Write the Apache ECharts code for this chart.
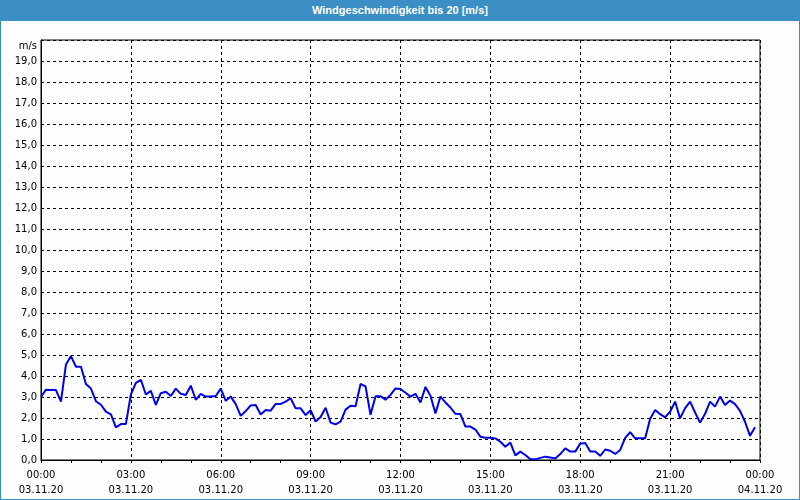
<!DOCTYPE html>
<html>
<head>
<meta charset="utf-8">
<script src="https://cdn.jsdelivr.net/npm/echarts@6/dist/echarts.min.js"></script>
<style>
html,body{margin:0;padding:0;background:#fff;}
#frame{position:absolute;left:0;top:0;width:798px;height:499px;border:1px solid #3b8fc4;border-top:none;background:#fcfdfd;}
#titlebar{position:absolute;left:0;top:0;width:800px;height:21px;background:#3b8fc4;color:#fff;font:bold 11px "Liberation Sans",sans-serif;text-align:center;line-height:21px;}
#chart{position:absolute;left:0;top:0;width:800px;height:500px;}
</style>
</head>
<body>
<div id="frame"></div>
<div id="titlebar">Windgeschwindigkeit bis 20 [m/s]</div>
<div id="chart"></div>
<script>
// Wind speed [m/s], 10-minute samples from 00:00 to 23:50 (03.11.20)
const sampleStepMinutes = 10;
const windSpeed = [
 3.0,3.35,3.33,3.33,2.78,4.55,4.95,4.44,4.44,3.62,3.4,2.8,2.63,2.3,2.17,1.55,1.71,1.71,
 3.12,3.67,3.82,3.12,3.29,2.62,3.18,3.25,3.05,3.4,3.15,3.1,3.54,2.87,3.15,3.02,3.02,3.05,
 3.4,2.82,3.02,2.66,2.1,2.33,2.6,2.62,2.17,2.38,2.35,2.67,2.67,2.78,2.94,2.46,2.46,2.14,
 2.37,1.83,2.05,2.49,1.78,1.7,1.83,2.4,2.58,2.56,3.62,3.5,2.15,3.04,3.04,2.87,3.1,3.41,
 3.38,3.2,3.02,3.15,2.74,3.48,3.06,2.22,3.02,2.74,2.5,2.2,2.19,1.59,1.59,1.45,1.11,1.06,
 1.06,1.03,0.87,0.63,0.83,0.22,0.4,0.24,0.03,0.03,0.1,0.16,0.12,0.07,0.28,0.55,0.4,0.4,
 0.78,0.81,0.4,0.4,0.2,0.5,0.44,0.29,0.48,1.05,1.33,1.03,1.03,1.03,1.96,2.38,2.18,2.03,
 2.3,2.78,1.98,2.47,2.78,2.26,1.78,2.2,2.78,2.54,3.02,2.62,2.83,2.66,2.34,1.82,1.15,1.56
];
const xTickTimes = ['00:00','03:00','06:00','09:00','12:00','15:00','18:00','21:00','00:00'];
const xTickDates = ['03.11.20','03.11.20','03.11.20','03.11.20','03.11.20','03.11.20','03.11.20','03.11.20','04.11.20'];
const yUnit = 'm/s';

const seriesData = windSpeed.map((v, i) => [i * sampleStepMinutes, v]);
const fontFam = '"DejaVu Sans", sans-serif';

const chart = echarts.init(document.getElementById('chart'), null, {renderer: 'canvas'});
chart.setOption({
  animation: false,
  backgroundColor: 'transparent',
  grid: {left: 41, right: 40, top: 40, bottom: 40, show: true, borderColor: '#000', borderWidth: 1, backgroundColor: 'transparent'},
  xAxis: {
    type: 'value', min: 0, max: 1440, interval: 180,
    axisLine: {show: true, lineStyle: {color: '#000', width: 1}},
    axisTick: {show: true, length: 3, lineStyle: {color: '#000'}},
    minorTick: {show: true, splitNumber: 3, length: 3, lineStyle: {color: '#000'}},
    splitLine: {show: true, lineStyle: {color: '#000', type: [3, 3], width: 1}},
    axisLabel: {
      color: '#000', fontFamily: fontFam, fontSize: 10, lineHeight: 15, margin: 8,
      formatter: v => { const k = Math.round(v / 180); return xTickTimes[k] + '\n' + xTickDates[k]; }
    }
  },
  yAxis: {
    type: 'value', min: 0, max: 20, interval: 1,
    axisLine: {show: true, lineStyle: {color: '#000', width: 1}},
    axisTick: {show: false},
    splitLine: {show: true, lineStyle: {color: '#000', type: [3, 3], width: 1}},
    axisLabel: {
      color: '#000', fontFamily: fontFam, fontSize: 10, margin: 4, padding: [3, 0, 0, 0],
      formatter: v => v >= 20 ? '' : v.toFixed(1).replace('.', ',')
    }
  },
  graphic: [{
    type: 'text', right: 763, top: 41,
    style: {text: yUnit, fill: '#000', font: '10px ' + fontFam, textAlign: 'right'}
  }],
  series: [{
    type: 'line', data: seriesData, showSymbol: false, symbol: 'none',
    lineStyle: {color: '#0000e6', width: 2}, itemStyle: {color: '#0000e6'}
  }]
});
</script>
</body>
</html>
